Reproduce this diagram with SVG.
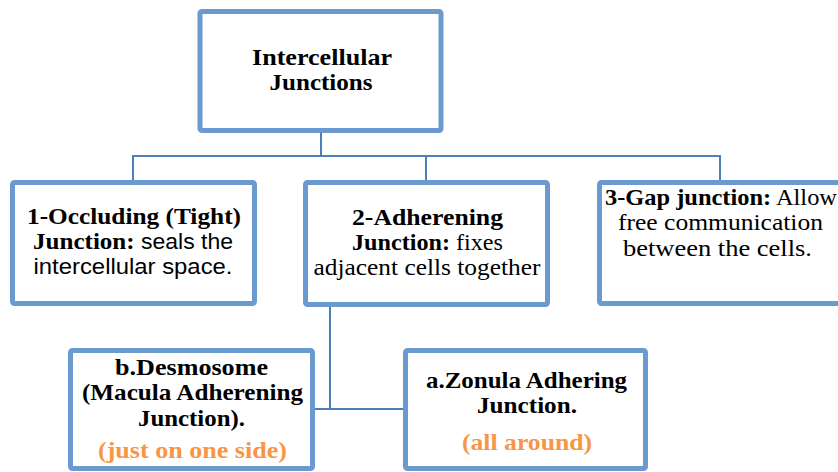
<svg xmlns="http://www.w3.org/2000/svg" width="838" height="472" viewBox="0 0 838 472">
<style>
.box{fill:#fff;stroke:#6A9AD0;stroke-width:5}
.con{fill:none;stroke:#4F7FB9;stroke-width:2}
text{font-family:"Liberation Serif",serif;font-size:24px;fill:#000;text-anchor:middle}
.b{font-weight:bold}
.s{font-family:"Liberation Sans",Arial,sans-serif;font-weight:normal;font-size:22px}
.r{font-weight:normal}
.o{fill:#F79646;font-weight:bold}
</style>
<rect width="838" height="472" fill="#fff"/>
<g id="connectors">
<path class="con" d="M321 133V156M133 156H720M133 155V181M426 155V181M720 155V181"/>
<path class="con" d="M330 306V409M314 409H404"/>
</g>
<g id="root">
<rect class="box" x="200" y="11.5" width="241" height="119" rx="2"/>
<text class="b" x="322" y="65" textLength="140" lengthAdjust="spacingAndGlyphs">Intercellular</text>
<text class="b" x="321" y="90" textLength="103" lengthAdjust="spacingAndGlyphs">Junctions</text>
</g>
<g id="occluding">
<rect class="box" x="12.5" y="182.5" width="242" height="121" rx="2"/>
<text class="b" x="134" y="224" textLength="214" lengthAdjust="spacingAndGlyphs">1-Occluding (Tight)</text>
<text x="133" y="249" textLength="200" lengthAdjust="spacingAndGlyphs"><tspan class="b">Junction:</tspan><tspan class="s"> seals the</tspan></text>
<text class="s" x="133" y="274" textLength="199" lengthAdjust="spacingAndGlyphs">intercellular space.</text>
</g>
<g id="adherening">
<rect class="box" x="305.5" y="182.5" width="242" height="122" rx="2"/>
<text class="b" x="427.5" y="225" textLength="151" lengthAdjust="spacingAndGlyphs">2-Adherening</text>
<text x="427.5" y="250" textLength="151" lengthAdjust="spacingAndGlyphs"><tspan class="b">Junction:</tspan><tspan class="r"> fixes</tspan></text>
<text class="r" x="427" y="275" textLength="227" lengthAdjust="spacingAndGlyphs">adjacent cells together</text>
</g>
<g id="gap">
<rect class="box" x="599.5" y="182.5" width="245" height="121" rx="2"/>
<text x="721" y="205" textLength="232" lengthAdjust="spacingAndGlyphs"><tspan class="b">3-Gap junction:</tspan><tspan class="r"> Allow</tspan></text>
<text class="r" x="720.5" y="230" textLength="205" lengthAdjust="spacingAndGlyphs">free communication</text>
<text class="r" x="717.5" y="256" textLength="189" lengthAdjust="spacingAndGlyphs">between the cells.</text>
</g>
<g id="desmosome">
<rect class="box" x="70.5" y="350.5" width="242" height="118" rx="2"/>
<text class="b" x="191.5" y="375" textLength="153" lengthAdjust="spacingAndGlyphs">b.Desmosome</text>
<text class="b" x="192.5" y="400" textLength="221" lengthAdjust="spacingAndGlyphs">(Macula Adherening</text>
<text class="b" x="191.5" y="426" textLength="107" lengthAdjust="spacingAndGlyphs">Junction).</text>
<text class="o" x="192.5" y="458" textLength="189" lengthAdjust="spacingAndGlyphs">(just on one side)</text>
</g>
<g id="zonula">
<rect class="box" x="405.5" y="350.5" width="240" height="118" rx="2"/>
<text class="b" x="526.5" y="388" textLength="201" lengthAdjust="spacingAndGlyphs">a.Zonula Adhering</text>
<text class="b" x="527" y="413" textLength="100" lengthAdjust="spacingAndGlyphs">Junction.</text>
<text class="o" x="527" y="450" textLength="130" lengthAdjust="spacingAndGlyphs">(all around)</text>
</g>
</svg>
